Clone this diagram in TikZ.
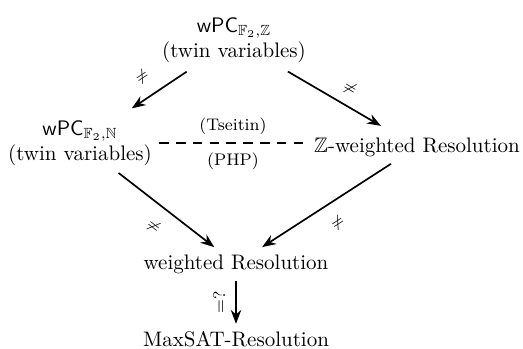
\documentclass[tikz,border=0pt]{standalone}
\usepackage{amssymb}
\usetikzlibrary{arrows.meta}
\begin{document}
\begin{tikzpicture}[x=0.4762pt,y=-0.4762pt,
  box/.style={align=center},
  arr/.style={thick,-{Stealth}},
  toparr/.style={arr,shorten <=1.5pt,shorten >=4pt},
  neq/.style={font=\scriptsize},
  side/.style={font=\footnotesize}]
\useasboundingbox (0,0) rectangle (523,349);
\node[box] (top) at (234,40) {$\mathsf{wPC}_{\mathbb{F}_2,\mathbb{Z}}$\\(twin variables)};
\node[box] (left) at (80,143) {$\mathsf{wPC}_{\mathbb{F}_2,\mathbb{N}}$\\(twin variables)};
\node[box] (right) at (417,147) {$\mathbb{Z}$-weighted Resolution};
\node[box] (wres) at (236,264) {weighted Resolution};
\node[box] (maxsat) at (236,339) {MaxSAT-Resolution};
\draw[toparr] (top) -- (left) node[pos=0.55,sloped,above=3pt,neq] {$\neq$};
\draw[toparr] (top) -- (right) node[pos=0.55,sloped,above=1pt,neq] {$\neq$};
\draw[arr] (left) -- (wres) node[midway,sloped,below=3pt,neq] {$\neq$};
\draw[arr] (right) -- (wres) node[midway,sloped,below=3pt,neq] {$\neq$};
\draw[thick,{Stealth}-] (maxsat) -- (wres) node[midway,sloped,above=1.5pt,side] {$=?$};
\draw[thick,dash pattern=on 4.5pt off 3.5pt] (left.east) -- (left.east -| right.west)
  node[midway,above=0pt,side] {(Tseitin)}
  node[midway,below=1pt,side] {(PHP)};
\end{tikzpicture}
\end{document}
